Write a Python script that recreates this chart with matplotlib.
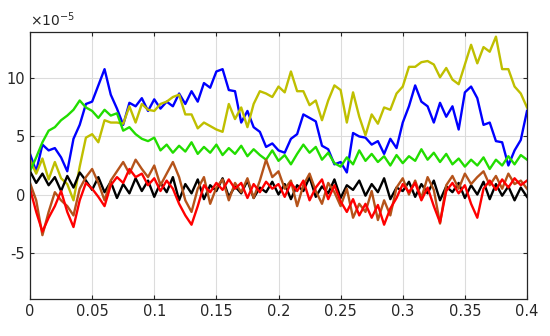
import numpy as np
import matplotlib
matplotlib.use("Agg")
import matplotlib.pyplot as plt

# time axis (s), step 0.005
t = np.round(np.arange(81) * 0.005, 4)

blue = [3.5, 2.0, 4.3, 3.8, 4.0, 3.2, 2.0, 4.8, 6.0, 7.8,
        8.0, 9.4, 10.8, 8.6, 7.4, 6.0, 7.9, 7.6, 8.3, 7.2,
        8.2, 7.4, 8.0, 7.6, 8.7, 7.8, 8.9, 8.0, 9.6, 9.2,
        10.6, 10.8, 9.0, 8.9, 6.2, 7.2, 5.8, 5.4, 4.1, 4.4,
        3.8, 3.6, 4.8, 5.2, 6.9, 6.6, 6.3, 4.2, 3.9, 2.6,
        2.8, 1.9, 5.3, 5.0, 4.9, 4.3, 4.6, 3.5, 4.8, 4.0,
        6.2, 7.6, 9.4, 8.0, 7.6, 6.2, 7.9, 6.7, 7.6, 5.6,
        8.8, 9.3, 8.3, 6.0, 6.2, 4.6, 4.5, 2.5, 3.8, 4.7,
        7.2]

olive = [3.0, 1.8, 3.1, 1.3, 2.8, 1.4, 0.9, -0.5, 2.4, 4.9,
         5.2, 4.5, 6.4, 6.2, 6.2, 6.1, 7.6, 6.2, 7.8, 7.3,
         7.2, 7.8, 8.0, 8.4, 8.6, 6.9, 6.9, 5.7, 6.2, 5.9,
         5.6, 5.4, 7.8, 6.5, 7.5, 5.8, 7.8, 8.9, 8.7, 8.4,
         9.3, 8.8, 10.6, 8.9, 8.9, 7.7, 8.1, 6.4, 8.1, 9.4,
         9.0, 6.2, 8.8, 6.7, 5.1, 6.9, 6.1, 7.5, 7.3, 8.7,
         9.3, 11.0, 11.0, 11.4, 11.5, 11.2, 10.1, 10.9, 9.9, 9.5,
         11.2, 12.9, 11.3, 12.7, 12.3, 13.6, 10.8, 10.8, 9.3, 8.7,
         7.5]

green = [2.0, 3.2, 4.5, 5.5, 5.8, 6.4, 6.8, 7.3, 8.1, 7.5,
         7.2, 6.6, 7.3, 6.8, 7.0, 5.5, 5.8, 5.2, 4.8, 4.6,
         4.9, 3.8, 4.3, 3.6, 4.2, 3.7, 4.5, 3.5, 4.1, 3.6,
         4.3, 3.4, 4.0, 3.5, 4.2, 3.3, 3.9, 3.4, 3.0, 3.8,
         2.9, 3.4, 2.6, 3.5, 4.3, 3.6, 4.1, 3.0, 3.6, 2.7,
         2.4, 3.2, 2.6, 3.8, 2.9, 3.5, 2.8, 3.3, 2.5, 3.4,
         2.7, 3.3, 2.9, 3.9, 3.0, 3.6, 2.8, 3.5, 2.6, 3.1,
         2.4, 3.0, 2.5, 3.2, 2.2, 3.0, 2.5, 3.3, 2.6, 3.4,
         3.0]

black = [2.0, 1.0, 1.8, 0.8, 1.5, 0.3, 1.6, 0.6, 1.9, 1.2,
         0.4, 1.5, 0.2, 1.1, -0.3, 0.9, 0.1, 1.4, 0.3, 1.2,
         -0.2, 1.0, 0.2, 1.5, -0.5, 0.9, 0.1, 1.3, -0.4, 0.8,
         0.3, 1.4, -0.2, 0.7, 0.1, 1.2, -0.3, 0.6, 0.2, 1.1,
         0.0, 0.9, -0.4, 0.8, 0.3, 1.5, -0.2, 0.7, 0.1, 1.3,
         -0.3, 0.8, 0.4, 1.2, -0.1, 0.9, 0.2, 1.4, -0.4, 0.6,
         0.3, 1.1, -0.2, 0.9, 0.1, 1.2, -0.5, 0.7, 0.2, 1.0,
         -0.3, 0.8, 0.0, 1.1, -0.4, 0.9, -0.1, 0.7, -0.5, 0.6,
         -0.2]

brown = [1.0, -0.5, -3.5, -1.5, 0.2, -0.5, -1.0, -1.8, 0.5, 1.5,
         2.2, 1.0, -0.5, 1.2, 2.0, 2.8, 1.8, 3.0, 2.2, 1.5,
         2.5, 0.8, 1.8, 2.8, 1.5, -0.5, -1.5, 0.5, 1.5, -0.8,
         0.6, 1.3, -0.5, 1.0, 0.2, 1.4, -0.3, 1.2, 3.0, 1.5,
         2.0, 0.5, 1.2, -1.0, 0.8, 1.8, 0.3, -0.8, 1.0, 0.2,
         -1.0, 0.5, -2.0, -0.8, -1.5, 0.3, -2.2, -0.5, -1.8, 0.6,
         1.4, 0.0, 1.2, -0.3, 1.5, 0.4, -2.5, 0.8, 1.6, 0.5,
         1.8, 0.9, 1.5, 2.0, 0.8, 1.6, 0.5, 1.8, 0.9, 1.2,
         0.5]

red = [0.5, -1.5, -3.2, -2.0, -1.0, 0.3, -1.5, -2.8, -0.5, 1.0,
       0.5, -0.2, -1.0, 0.8, 1.5, 1.0, 2.2, 1.5, 1.8, 0.8,
       1.4, 0.3, 1.2, 0.5, -0.8, -1.8, -2.6, -1.0, 0.8, 0.2,
       1.0, 0.4, 1.3, 0.5, 1.0, -0.3, 0.9, 0.2, 1.1, 0.5,
       0.9, -0.2, 1.0, 0.3, 1.2, -0.5, 0.6, 1.3, -0.4, 0.8,
       -0.6, -1.5, -0.4, -1.8, -0.8, -2.0, -0.9, -2.6, -1.2, -0.3,
       0.9, 0.2, 1.0, -0.5, 0.6, -1.0, -2.4, 0.3, 1.0, 0.1,
       0.8, -0.8, -2.0, 0.5, 1.2, 0.4, 1.3, 0.6, 1.4, 0.8,
       1.2]

xticks = [0, 0.05, 0.1, 0.15, 0.2, 0.25, 0.3, 0.35, 0.4]
xticklabels = ["0", "0.05", "0.1", "0.15", "0.2", "0.25", "0.3", "0.35", "0.4"]
yticks = [-5, 0, 5, 10]
yticklabels = ["-5", "0", "5", "10"]

scale = 1e-5

fig = plt.figure(figsize=(5.5, 3.36), dpi=100)
ax = fig.add_axes([30/550, 37/336, 497/550, 267/336])

lw = 1.7
ax.plot(t, np.array(blue) * scale, color="#0000ff", lw=lw)
ax.plot(t, np.array(olive) * scale, color="#bfbf00", lw=lw)
ax.plot(t, np.array(green) * scale, color="#22dd00", lw=lw)
ax.plot(t, np.array(black) * scale, color="#000000", lw=lw)
ax.plot(t, np.array(brown) * scale, color="#b5531a", lw=lw)
ax.plot(t, np.array(red) * scale, color="#ff0000", lw=lw)

ax.set_xlim(0, 0.4)
ax.set_ylim(-9e-5, 14e-5)
ax.set_xticks(xticks)
ax.set_xticklabels(xticklabels)
ax.set_yticks([v * scale for v in yticks])
ax.set_yticklabels(yticklabels)
ax.grid(True, color="#dcdcdc", lw=0.8)
ax.set_axisbelow(True)
ax.tick_params(direction="in", length=3, width=0.8, colors="#262626",
               labelsize=10.5, top=True, right=True, labeltop=False, labelright=False)
for s in ax.spines.values():
    s.set_color("#262626")
    s.set_linewidth(0.9)

fig.text(30/550, 1 - 20/336, r"$\times10^{-5}$", fontsize=10, color="#262626",
         ha="left", va="center")

fig.savefig("out.png", dpi=100)
